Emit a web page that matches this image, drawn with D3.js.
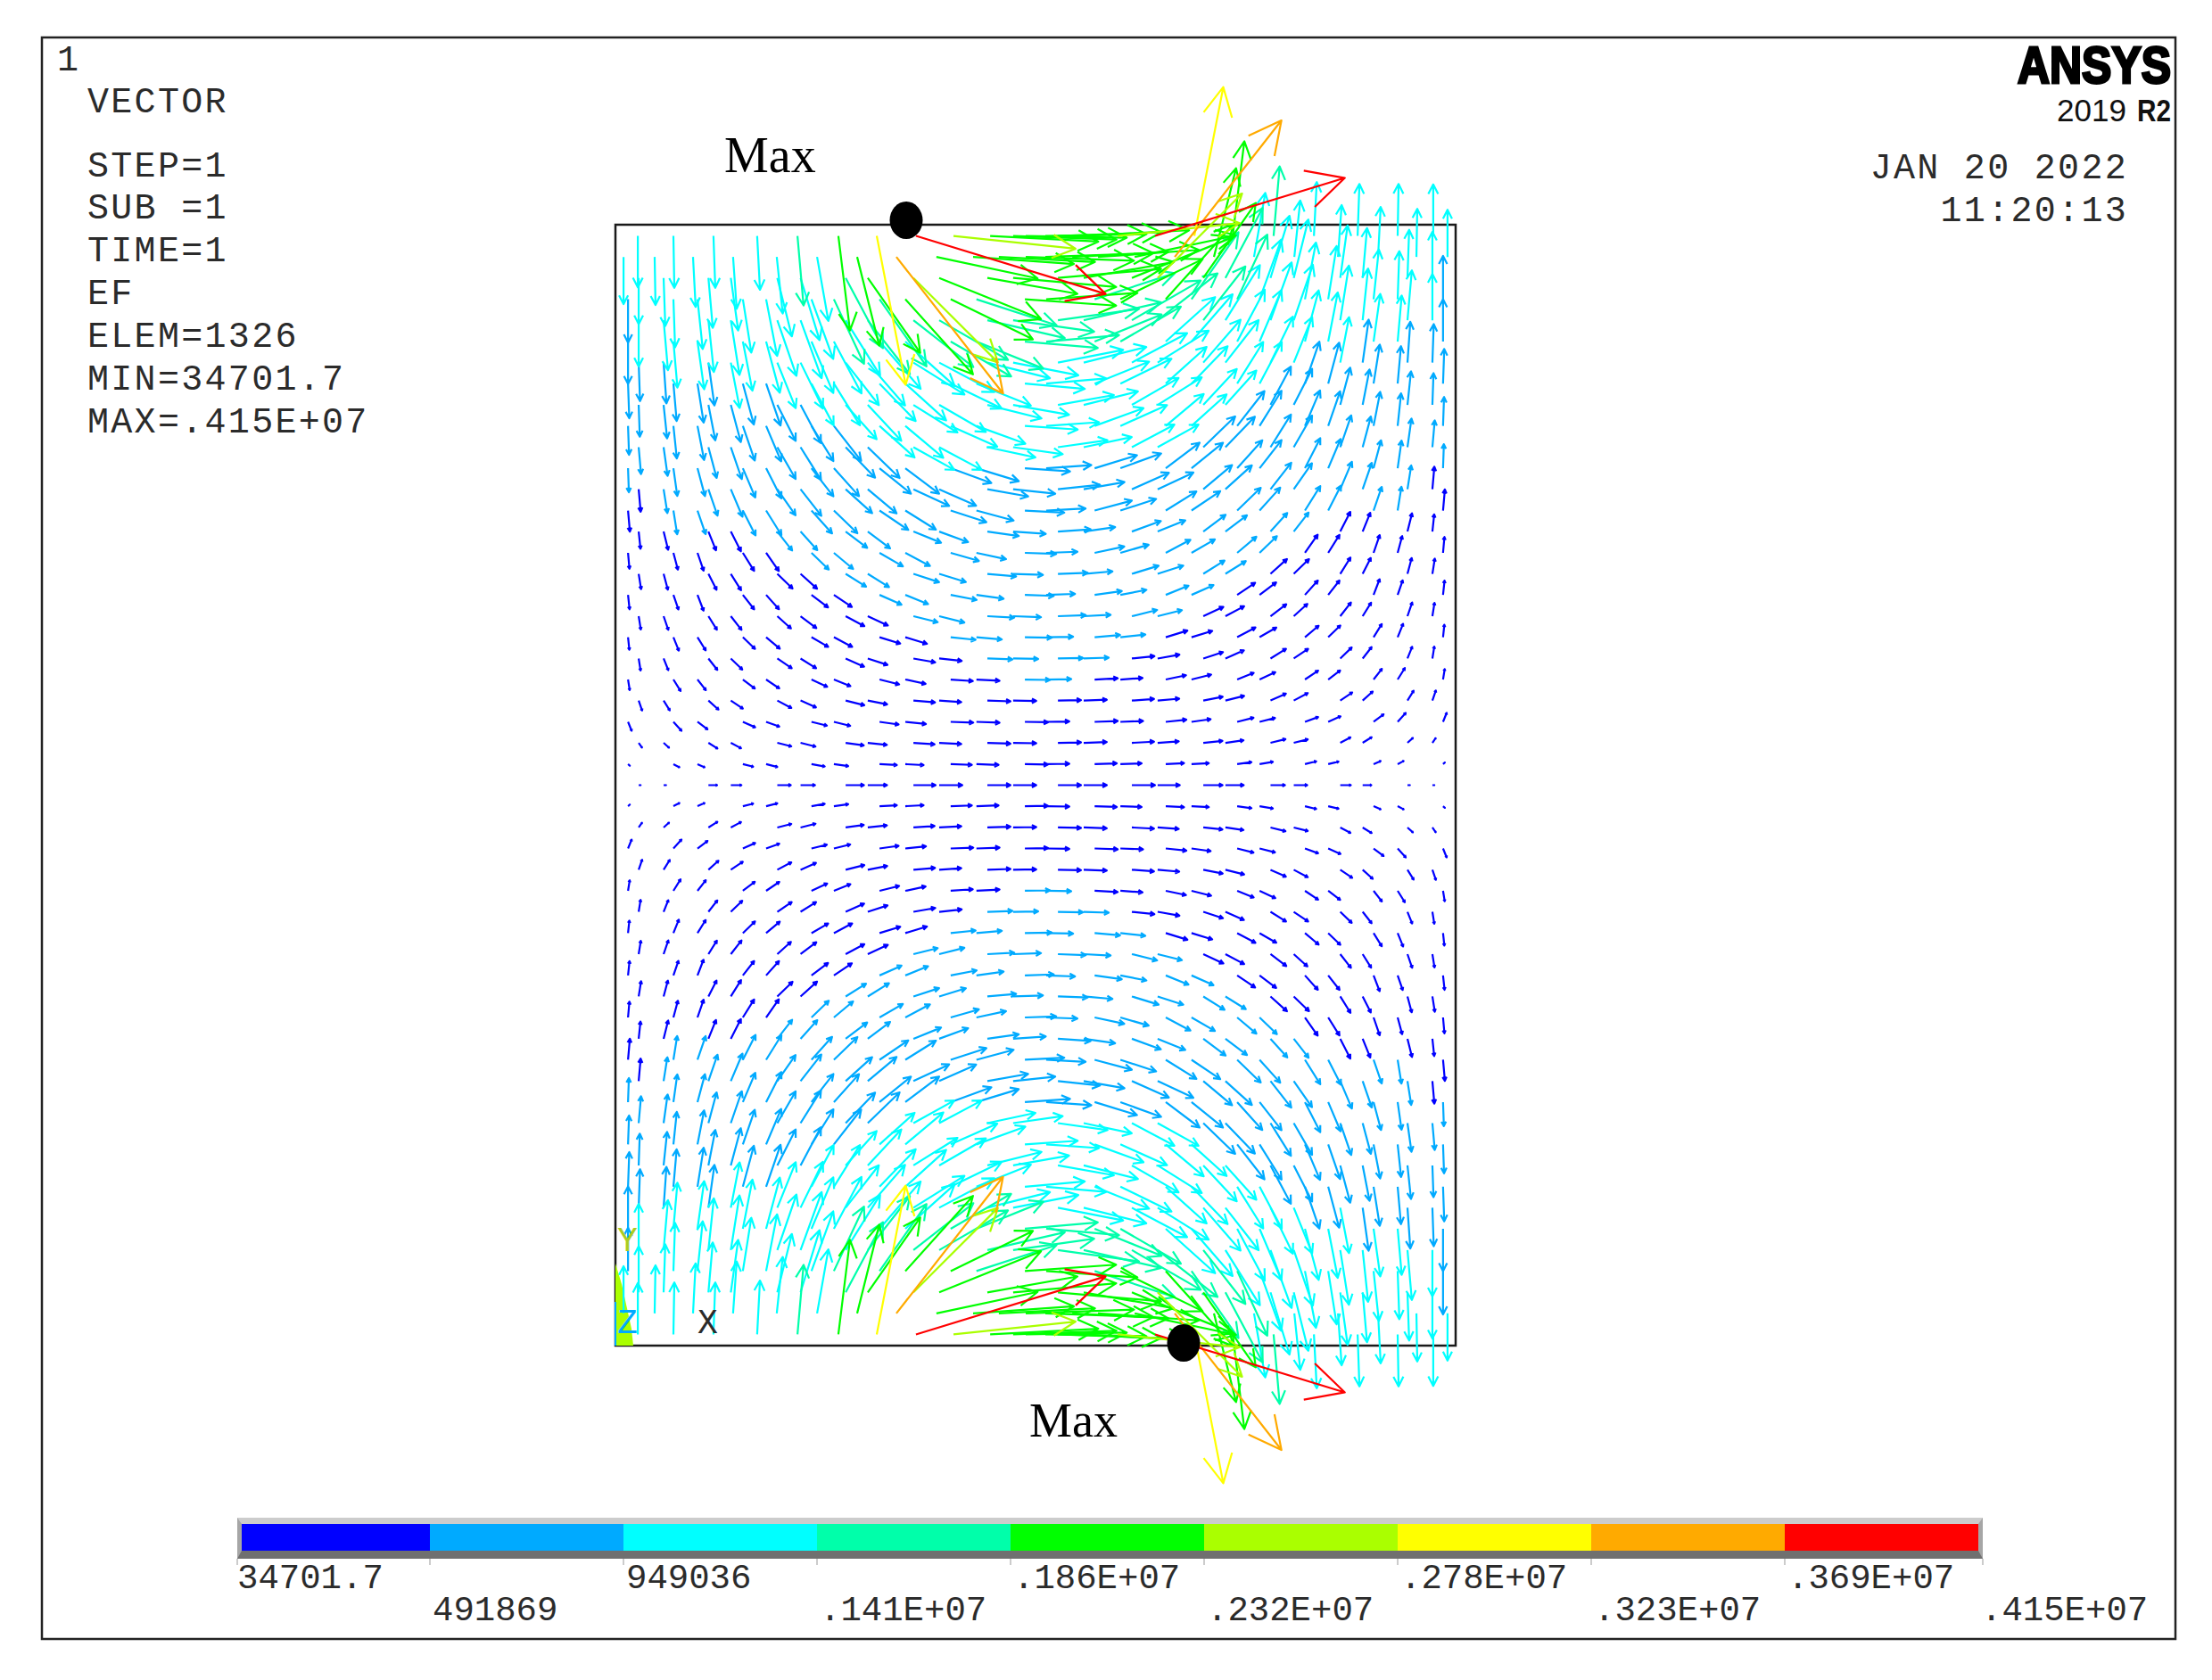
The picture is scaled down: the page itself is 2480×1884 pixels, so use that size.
<!DOCTYPE html>
<html>
<head>
<meta charset="utf-8">
<script src="https://d3js.org/d3.v7.min.js"></script>
<style>
	html, body { margin:0; padding:0; background:#fff; }
	svg { display:block; }
	.mono { font-family:"Liberation Mono", monospace; fill:#2b2b2b; }
</style>
</head>
<body>
<div id="idVectorPlot"></div>
<script>
// EF vectors: the field is mirror symmetric in x and y, so one quadrant is kept.
// units: model mm from the plate centre, field in 1e4 V/m, angle in degrees (0 = +x, negative = down)
var aRowY=[0,0.75,1.51,2.26,3.02,3.77,4.52,5.28,6.03,6.79,7.54,8.29,9.05,9.8,10.56,11.31,12.06,12.82,13.57,14.33,15.08,15.83,16.59,17.34,18.1,18.85,19.6];
var aColEven=[-14.17,-13.28,-11.68,-10.88,-9.22,-8.39,-6.78,-5.99,-4.36,-3.44,-1.72,-0.8];
var aColOdd=[-14.55,-12.93,-12.07,-10.45,-9.62,-8,-7.2,-5.57,-4.65,-3.03,-2.11,-0.38];
// the two rows next to the plate edge sit on a denser part of the mesh
var aColEdge=[-14.2,-12.93,-11.5,-9.94,-8.5,-7.04,-5.67,-4.27,-2.93,-1.62,-0.8,-0.35];
var aColEdgeNext=[-14.71,-13.6,-12.23,-10.8,-9.24,-7.8,-6.37,-4.97,-3.54,-2.23,-1.31,-0.35];

var aAngle=[
	[0,0,0,0,0,0,0,0,0,0,0,0],
	[-42,-28,-24,-14,-14,-10,-8,-3,-3,-2,-2,-1],
	[-55,-42,-32,-28,-14,-14,-8,-6,-4,-3,-2,-1],
	[-68,-48,-37,-24,-20,-14,-14,-8,-6,-2,-2,-1],
	[-71,-58,-42,-34,-28,-24,-14,-11,-5,-4,-2,-1],
	[-81,-58,-52,-37,-34,-25,-22,-14,-12,-4,-3,-1],
	[-81,-68,-52,-44,-34,-32,-24,-18,-10,-6,-2,-1],
	[-84,-68,-58,-44,-40,-30,-28,-17,-17,-6,-5,-1],
	[-81,-71,-58,-52,-42,-37,-28,-25,-14,-14,-3,-2],
	[-84,-71,-69,-52,-48,-37,-34,-24,-22,-11,-8,-2],
	[-81,-75,-63,-58,-44,-42,-32,-32,-18,-17,-5,-2],
	[-85,-75,-71,-58,-55,-44,-40,-30,-28,-16,-12,-2],
	[-84,-76,-68,-63,-52,-48,-37,-37,-22,-20,-8,-4],
	[-85,-81,-71,-63,-58,-48,-44,-34,-32,-18,-15,-3],
	[-85,-81,-71,-67,-55,-52,-42,-40,-25,-24,-10,-6],
	[-88,-82,-75,-67,-63,-52,-48,-39,-37,-20,-17,-4],
	[-85,-82,-75,-71,-60,-58,-46,-44,-29,-28,-12,-8],
	[-88,-84,-79,-71,-67,-58,-52,-42,-40,-24,-20,-4],
	[-88,-84,-79,-75,-63,-62,-48,-47,-32,-30,-14,-10],
	[-88,-85,-81,-75,-71,-62,-58,-46,-42,-26,-22,-5],
	[-88,-86,-82,-79,-68,-64,-52,-49,-32,-28,-14,-11],
	[-90,-85,-82,-79,-75,-67,-62,-49,-42,-30,-22,-5],
	[-90,-85,-84,-81,-71,-70,-58,-52,-38,-30,-13,-8],
	[-90,-88,-84,-81,-79,-70,-65,-55,-48,-26,-18,-4],
	[-90,-88,-85,-82,-76,-73,-62,-55,-45,-22,-10,-5],
	[-90,-89,-87,-86,-84,-80,-76,-52,-12,-4,-3,-2],
	[-90,-89,-88,-87,-85,-83,-79,-17,-6,-3,-2,-1]
];

var aField=[
	[4,5,18,22,28,30,38,40,46,48,48,48],
	[5,14,16,22,24,28,30,36,38,44,46,48],
	[12,15,22,24,30,32,38,40,44,46,48,48],
	[20,25,26,28,29,33,35,40,43,47,48,48],
	[22,24,28,30,33,35,40,41,45,46,48,48],
	[22,28,28,31,33,36,37,42,43,46,48,52],
	[25,26,30,33,36,38,42,43,46,47,52,52],
	[26,30,32,35,37,40,43,45,47,52,53,56],
	[28,30,33,36,38,41,44,46,52,54,56,58],
	[30,32,35,38,40,43,45,50,51,55,57,60],
	[32,34,37,40,44,46,50,52,56,58,60,62],
	[33,36,39,44,46,50,52,56,58,61,63,65],
	[36,39,42,46,50,52,56,58,62,64,66,68],
	[44,50,52,58,60,64,68,72,75,78,80,82],
	[47,50,58,62,66,70,74,78,82,84,86,88],
	[50,58,60,66,70,74,78,84,88,90,92,94],
	[56,60,66,70,76,80,88,92,97,100,102,104],
	[60,68,72,76,80,86,92,98,103,106,108,110],
	[66,70,75,80,84,90,96,102,108,112,116,118],
	[72,78,82,88,92,98,102,108,114,118,122,125],
	[80,85,90,96,102,106,112,118,125,130,134,138],
	[88,96,100,104,110,116,122,130,138,145,150,152],
	[96,104,108,115,122,128,135,142,158,165,165,170],
	[90,100,104,112,120,132,148,170,210,190,175,190],
	[96,100,104,110,125,135,165,190,248,228,190,215],
	[98,100,104,108,118,135,190,360,215,210,200,225],
	[107,108,108,112,145,198,315,412,255,225,215,210]
];

var aLevels=[3.47,49.19,94.9,141,186,232,278,323,369,415];
var aLevelLabels=["34701.7","491869","949036",".141E+07",".186E+07",".232E+07",".278E+07",".323E+07",".369E+07",".415E+07"];
var aBandColors=["#0000ff","#00aaff","#00ffff","#00ffaa","#00ff00","#aaff00","#ffff00","#ffaa00","#ff0000"];
var aInfoLines=["STEP=1","SUB =1","TIME=1","EF","ELEM=1326","MIN=34701.7","MAX=.415E+07"];
var aDateLines=["JAN 20 2022","11:20:13"];

function DrawVectorPlot()
{
	var iWidth=2480;
	var iHeight=1884;

	var myCanvas=d3.select("#idVectorPlot").append("svg")
		.attr("width",iWidth)
		.attr("height",iHeight);

	var myX=d3.scaleLinear().domain([-15,15]).range([690,1632]);
	var myY=d3.scaleLinear().domain([20,-20]).range([252,1509]);
	var myLength=d3.scaleLinear().domain([0,415]).range([0,224]);
	var myColor=d3.scaleThreshold().domain(aLevels.slice(1,9)).range(aBandColors);
	var myLevelX=d3.scaleLinear().domain([0,1,9]).range([271,482,2218]);

	// outer window frame
	myCanvas.append("rect")
		.attr("x",47).attr("y",42)
		.attr("width",2392).attr("height",1796)
		.attr("fill","none").attr("stroke","#222").attr("stroke-width",2.5);

	myCanvas.append("rect")
		.attr("x",myX(-15)).attr("y",myY(20))
		.attr("width",myX(15)-myX(-15)).attr("height",myY(-20)-myY(20))
		.attr("fill","none").attr("stroke","#1a1a1a").attr("stroke-width",2.5);

	// triad at the lower left corner
	myCanvas.append("path")
		.attr("d","M690,1417L690,1509L710,1509L708,1490L697,1440Z")
		.attr("fill","#aaff00");
	myCanvas.append("line")
		.attr("x1",690).attr("x2",690).attr("y1",1460).attr("y2",1509)
		.attr("stroke","#00aaff").attr("stroke-width",2);

	var aVectors=[];
	aRowY.forEach(function(fY,iRow){
		var aCols=iRow%2==0 ? aColEven : aColOdd;
		if(iRow==aRowY.length-1) aCols=aColEdge;
		if(iRow==aRowY.length-2) aCols=aColEdgeNext;
		aCols.forEach(function(fX,iCol){
			var fAngle=aAngle[iRow][iCol];
			var fValue=aField[iRow][iCol];
			aVectors.push({x:fX,y:fY,a:fAngle,v:fValue});
			aVectors.push({x:-fX,y:fY,a:-fAngle,v:fValue});
			if(iRow>0)
			{
				aVectors.push({x:fX,y:-fY,a:-fAngle,v:fValue});
				aVectors.push({x:-fX,y:-fY,a:fAngle,v:fValue});
			}
		});
	});
	aVectors.sort(function(a,b){return a.v-b.v;});

	myCanvas.append("g").selectAll(".vector")
		.data(aVectors)
		.enter().append("path")
			.attr("class","vector")
			.attr("fill","none")
			.attr("stroke-width",2.2)
			.attr("stroke-linejoin","round")
			.attr("stroke",function(myNode){return myColor(myNode.v);})
			.attr("d",function(myNode){
				var fLen=myLength(myNode.v);
				var fRad=myNode.a*Math.PI/180;
				var x0=myX(myNode.x), y0=myY(myNode.y);
				var x1=x0+fLen*Math.cos(fRad), y1=y0-fLen*Math.sin(fRad);
				var fWing=fLen*0.21;
				var fSpread=27*Math.PI/180;
				var xa=x1-fWing*Math.cos(fRad+fSpread), ya=y1+fWing*Math.sin(fRad+fSpread);
				var xb=x1-fWing*Math.cos(fRad-fSpread), yb=y1+fWing*Math.sin(fRad-fSpread);
				return "M"+x0+","+y0+"L"+x1+","+y1+"M"+xa+","+ya+"L"+x1+","+y1+"L"+xb+","+yb;
			});

	// triad letters
	myCanvas.append("text").attr("class","mono").attr("x",692).attr("y",1403)
		.style("font-size","38px").style("fill","#aacc22").text("Y");
	myCanvas.append("text").attr("class","mono").attr("x",692).attr("y",1495)
		.style("font-size","38px").style("fill","#00aaff").text("Z");
	myCanvas.append("text").attr("class","mono").attr("x",782).attr("y",1495)
		.style("font-size","38px").text("X");

	// hand placed markers from the paper
	myCanvas.selectAll(".maxdot")
		.data([[1016,247],[1327,1506]])
		.enter().append("ellipse")
			.attr("class","maxdot")
			.attr("cx",function(d){return d[0];})
			.attr("cy",function(d){return d[1];})
			.attr("rx",18.5).attr("ry",21)
			.attr("fill","#000");

	myCanvas.selectAll(".maxlabel")
		.data([[812,193,56],[1154,1611,54]])
		.enter().append("text")
			.attr("class","maxlabel")
			.attr("x",function(d){return d[0];})
			.attr("y",function(d){return d[1];})
			.style("font-family","'Liberation Serif', serif")
			.style("font-size",function(d){return d[2]+"px";})
			.text("Max");

	// header text
	var sInfo="font-size:40px;letter-spacing:2.3px;";
	myCanvas.append("text").attr("class","mono").attr("x",64).attr("y",79).attr("style",sInfo).text("1");
	myCanvas.append("text").attr("class","mono").attr("x",98).attr("y",126).attr("style",sInfo).text("VECTOR");
	myCanvas.selectAll(".info")
		.data(aInfoLines)
		.enter().append("text")
			.attr("class","mono info")
			.attr("x",98)
			.attr("y",function(d,i){return 197.5+i*47.9;})
			.attr("style",sInfo)
			.text(function(d){return d;});

	myCanvas.selectAll(".date")
		.data(aDateLines)
		.enter().append("text")
			.attr("class","mono date")
			.attr("x",2386)
			.attr("y",function(d,i){return 200+i*47.5;})
			.attr("text-anchor","end")
			.attr("style",sInfo)
			.text(function(d){return d;});

	myCanvas.append("text")
		.attr("x",2262).attr("y",93)
		.attr("textLength",172).attr("lengthAdjust","spacingAndGlyphs")
		.style("font-family","'Liberation Sans Narrow','Liberation Sans',sans-serif")
		.style("font-weight",700).style("font-size","57px")
		.style("stroke","#000").style("stroke-width",3)
		.text("ANSYS");
	myCanvas.append("text")
		.attr("x",2306).attr("y",136)
		.attr("textLength",78).attr("lengthAdjust","spacingAndGlyphs")
		.style("font-family","'Liberation Sans Narrow','Liberation Sans',sans-serif")
		.style("font-size","35px").style("fill","#111")
		.text("2019");
	myCanvas.append("text")
		.attr("x",2396).attr("y",136)
		.attr("textLength",38).attr("lengthAdjust","spacingAndGlyphs")
		.style("font-family","'Liberation Sans Narrow','Liberation Sans',sans-serif")
		.style("font-size","35px").style("font-weight",700).style("fill","#111")
		.text("R2");

	// legend bar with bevel
	var gLegend=myCanvas.append("g");
	gLegend.append("rect").attr("x",266).attr("y",1702).attr("width",1957).attr("height",46).attr("fill","#a6a6a6");
	gLegend.append("path").attr("d","M266,1702L2223,1702L2218,1709L271,1709Z").attr("fill","#cccccc");
	gLegend.append("path").attr("d","M266,1748L2223,1748L2218,1739L271,1739Z").attr("fill","#707070");

	gLegend.selectAll(".band")
		.data(aBandColors)
		.enter().append("rect")
			.attr("class","band")
			.attr("x",function(d,i){return myLevelX(i);})
			.attr("y",1709)
			.attr("width",function(d,i){return myLevelX(i+1)-myLevelX(i);})
			.attr("height",30)
			.attr("fill",function(d){return d;});

	gLegend.selectAll(".leveltick")
		.data(aLevels)
		.enter().append("line")
			.attr("class","leveltick")
			.attr("x1",function(d,i){return i==0 ? 266 : (i==9 ? 2223 : myLevelX(i));})
			.attr("x2",function(d,i){return i==0 ? 266 : (i==9 ? 2223 : myLevelX(i));})
			.attr("y1",1748).attr("y2",1755)
			.attr("stroke","#bbb").attr("stroke-width",1.5);

	gLegend.selectAll(".levellabel")
		.data(aLevelLabels)
		.enter().append("text")
			.attr("class","mono levellabel")
			.attr("x",function(d,i){return i==0 ? 266 : myLevelX(i)+3;})
			.attr("y",function(d,i){return i%2==0 ? 1781 : 1817;})
			.style("font-size","39px")
			.text(function(d){return d;});
}

DrawVectorPlot();
</script>
</body>
</html>
